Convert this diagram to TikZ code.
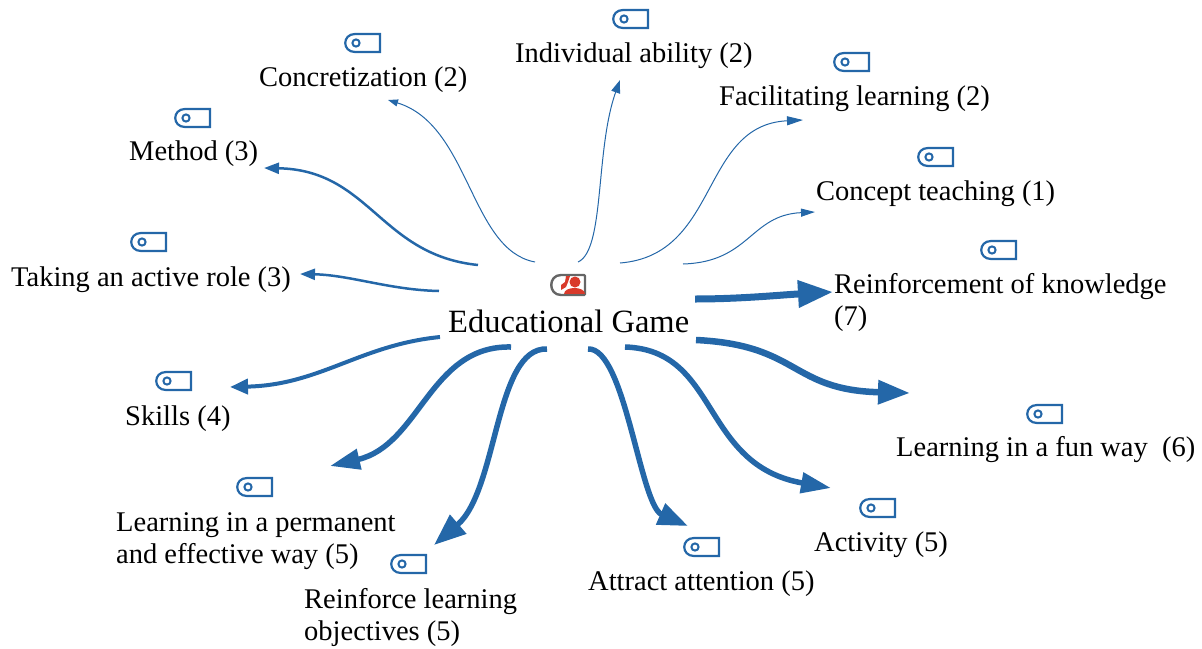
\documentclass[tikz,border=0pt]{standalone}
\usepackage{fontspec}
\setmainfont{Liberation Serif}
\usetikzlibrary{arrows.meta}
\definecolor{linkblue}{HTML}{2467A8}
\definecolor{iconred}{HTML}{D93A2B}
\definecolor{icongray}{HTML}{666666}
\tikzset{
  x=1pt,y=-1pt,
  lbl/.style={font=\fontsize{28.5}{32}\selectfont,inner sep=0pt,anchor=base west,align=left},
  link/.style={draw=linkblue,line width=#1},
  tagicon/.pic={
    \draw[linkblue,line width=2.2pt,line join=miter] (-8,-9) -- (17,-9) -- (17,9) -- (-8,9) .. controls (-21,9) and (-21,-9) .. (-8,-9) -- cycle;
    \draw[linkblue,line width=2pt] (-7,0) circle (3.6);
  },
  person/.pic={
    \draw[icongray,line width=2.4pt,line join=round] (-8,-10) -- (15,-10) -- (16,-9) -- (16,9) -- (15,10) -- (-8,10) .. controls (-21,10) and (-21,-10) .. (-8,-10) -- cycle;
    \fill[iconred] (6,-3) circle (5.5);
    \fill[iconred] (-5,9) .. controls (-5,1) and (16,1) .. (16,9) -- cycle;
    \fill[iconred] (-3,-9) -- (1,-9) -- (-1,-3) -- (-3,2) -- (-8,5) -- (-8,0) -- (-4,-3) -- cycle;
  }
}
\begin{document}
\begin{tikzpicture}
\useasboundingbox (0,0) rectangle (1202,648);
% central node
\node[lbl,font=\fontsize{32.5}{36}\selectfont] (game) at (448,332) {Educational Game};
\pic at (569,285) {person};
% labels
\node[lbl] (conc) at (259,86) {Concretization (2)};
\node[lbl] (indi) at (515,62) {Individual ability (2)};
\node[lbl] (faci) at (719,105) {Facilitating learning (2)};
\node[lbl] (meth) at (129,160) {Method (3)};
\node[lbl] (teach) at (816,200) {Concept teaching (1)};
\node[lbl] (role) at (11,286) {Taking an active role (3)};
\node[lbl] (rein) at (834,325) {Reinforcement of knowledge\\(7)};
\node[lbl] (skil) at (125,425) {Skills (4)};
\node[lbl] (fun) at (896,456) {Learning in a fun way\ \ (6)};
\node[lbl] (perm) at (116,563) {Learning in a permanent\\and effective way (5)};
\node[lbl] (acti) at (814,551) {Activity (5)};
\node[lbl] (attr) at (588,590) {Attract attention (5)};
\node[lbl] (obj) at (304,640) {Reinforce learning\\objectives (5)};
% tag icons
\pic at (631,19) {tagicon};
\pic at (363,43) {tagicon};
\pic at (852,62) {tagicon};
\pic at (193,118) {tagicon};
\pic at (936,157) {tagicon};
\pic at (149,242) {tagicon};
\pic at (999,250) {tagicon};
\pic at (174,381) {tagicon};
\pic at (1045,414) {tagicon};
\pic at (255,487) {tagicon};
\pic at (878,508) {tagicon};
\pic at (702,547) {tagicon};
\pic at (409,564) {tagicon};
% connector ends
\coordinate (s1) at (535,262); \coordinate (e1) at (388,100);
\coordinate (s2) at (578,262); \coordinate (e2) at (620,80);
\coordinate (s3) at (620,263); \coordinate (e3) at (803,120);
\coordinate (s4) at (683,264); \coordinate (e4) at (815,212);
\coordinate (s5) at (695,299); \coordinate (e5) at (833,292);
\coordinate (s6) at (696,340); \coordinate (e6) at (910,393);
\coordinate (s7) at (625,347); \coordinate (e7) at (831,488);
\coordinate (s8) at (588,349); \coordinate (e8) at (688,526);
\coordinate (s9) at (547,349); \coordinate (e9) at (434,545);
\coordinate (s10) at (511,347); \coordinate (e10) at (330,466);
\coordinate (s11) at (440,337); \coordinate (e11) at (230,387);
\coordinate (s12) at (439,291); \coordinate (e12) at (300,274);
\coordinate (s13) at (478,265); \coordinate (e13) at (264,168);
% connectors
\draw[link=1pt,-{Triangle[length=10pt,width=7pt]}] (s1) .. controls (470,250) and (470,125) .. (e1);
\draw[link=1pt,-{Triangle[length=13pt,width=9pt]}] (s2) .. controls (605,250) and (595,150) .. (e2);
\draw[link=1pt,-{Triangle[length=16pt,width=9pt]}] (s3) .. controls (720,255) and (700,125) .. (e3);
\draw[link=1pt,-{Triangle[length=14pt,width=8pt]}] (s4) .. controls (750,262) and (750,215) .. (e4);
\draw[link=7pt,-{Triangle[length=35pt,width=26pt]}] (s5) .. controls (740,299) and (780,295) .. (e5);
\draw[link=6.5pt,-{Triangle[length=32pt,width=23pt]}] (s6) .. controls (800,345) and (790,390) .. (e6);
\draw[link=5.5pt,-{Triangle[length=30pt,width=20pt]}] (s7) .. controls (720,350) and (700,465) .. (e7);
\draw[link=5.5pt,-{Triangle[length=30pt,width=22pt]}] (s8) .. controls (625,347) and (640,505) .. (e8);
\draw[link=5.5pt,-{Triangle[length=32pt,width=24pt]}] (s9) .. controls (495,347) and (498,490) .. (e9);
\draw[link=5.5pt,-{Triangle[length=30pt,width=20pt]}] (s10) .. controls (430,345) and (420,445) .. (e10);
\draw[link=4pt,-{Triangle[length=18pt,width=15pt]}] (s11) .. controls (360,345) and (320,385) .. (e11);
\draw[link=2.5pt,-{Triangle[length=15pt,width=11pt]}] (s12) .. controls (390,290) and (350,275) .. (e12);
\draw[link=2.5pt,-{Triangle[length=15pt,width=11pt]}] (s13) .. controls (380,255) and (370,170) .. (e13);
\end{tikzpicture}
\end{document}
